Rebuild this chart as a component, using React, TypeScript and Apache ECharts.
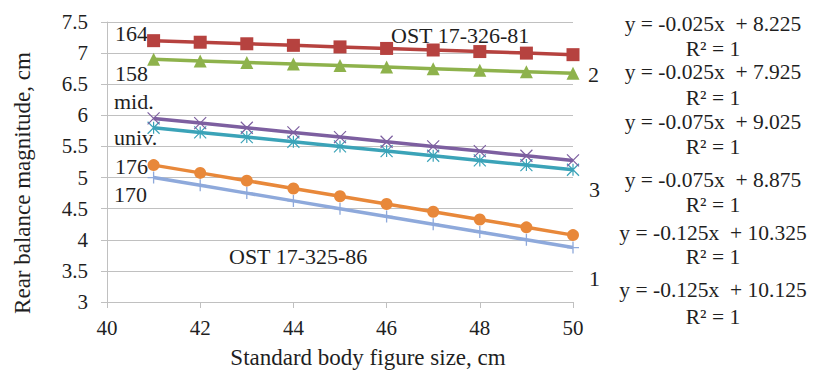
import React, { useEffect, useRef } from "react";
import * as echarts from "echarts";

const sizes = [41, 42, 43, 44, 45, 46, 47, 48, 49, 50];
const s164 = [7.2, 7.175, 7.15, 7.125, 7.1, 7.075, 7.05, 7.025, 7.0, 6.975];
const s158 = [6.9, 6.875, 6.85, 6.825, 6.8, 6.775, 6.75, 6.725, 6.7, 6.675];
const sMid = [5.95, 5.875, 5.8, 5.725, 5.65, 5.575, 5.5, 5.425, 5.35, 5.275];
const sUniv = [5.8, 5.725, 5.65, 5.575, 5.5, 5.425, 5.35, 5.275, 5.2, 5.125];
const s176 = [5.2, 5.075, 4.95, 4.825, 4.7, 4.575, 4.45, 4.325, 4.2, 4.075];
const s170 = [5.0, 4.875, 4.75, 4.625, 4.5, 4.375, 4.25, 4.125, 4.0, 3.875];

const equations = [
  "y = -0.025x  + 8.225",
  "y = -0.025x  + 7.925",
  "y = -0.075x  + 9.025",
  "y = -0.075x  + 8.875",
  "y = -0.125x  + 10.325",
  "y = -0.125x  + 10.125",
];
const eqY = [24, 72, 122, 180, 233, 290];
const r2Y = [49, 98, 147, 205, 257, 317];

const labels = [
  { t: "164", x: 115, y: 33 },
  { t: "158", x: 115, y: 73 },
  { t: "mid.", x: 114, y: 101 },
  { t: "univ.", x: 114, y: 137 },
  { t: "176", x: 115, y: 166 },
  { t: "170", x: 114, y: 194 },
  { t: "OST 17-326-81", x: 391, y: 35 },
  { t: "OST 17-325-86", x: 229, y: 256 },
  { t: "2", x: 588, y: 74 },
  { t: "3", x: 589, y: 189 },
  { t: "1", x: 589, y: 278 },
];

const FONT = "'Liberation Serif', 'Times New Roman', serif";
const TXT = "#1f1f1f";
const GRID = "#C0C0C0";

function mk(name: string, data: number[], color: string, symbol: string, size: number, border = 0) {
  return {
    name,
    type: "line",
    data: sizes.map((x, i) => [x, data[i]]),
    symbol,
    symbolSize: size,
    showAllSymbol: true,
    lineStyle: { color, width: 3.5 },
    itemStyle: { color, borderColor: color, borderWidth: border },
  };
}

export default function App() {
  const ref = useRef<HTMLDivElement>(null);
  useEffect(() => {
    document.body.style.margin = "0";
    const chart = echarts.init(ref.current!, null, { renderer: "svg" });
    const graphic: any[] = [];
    labels.forEach((l) =>
      graphic.push({
        type: "text",
        style: { text: l.t, x: l.x, y: l.y, font: `22px ${FONT}`, fill: TXT, align: "left", verticalAlign: "middle" },
      })
    );
    equations.forEach((e, i) => {
      graphic.push({
        type: "text",
        style: { text: e, x: 713, y: eqY[i], font: `21.5px ${FONT}`, fill: TXT, align: "center", verticalAlign: "middle" },
      });
      graphic.push({
        type: "text",
        style: { text: "R² = 1", x: 713, y: r2Y[i], font: `21.5px ${FONT}`, fill: TXT, align: "center", verticalAlign: "middle" },
      });
    });
    graphic.push({
      type: "text",
      x: 22,
      y: 183,
      rotation: Math.PI / 2,
      style: { text: "Rear balance magnitude, cm", x: 0, y: 0, font: `23px ${FONT}`, fill: TXT, align: "center", verticalAlign: "middle" },
    });
    graphic.push({
      type: "text",
      style: { text: "Standard body figure size, cm", x: 368, y: 357, font: `23px ${FONT}`, fill: TXT, align: "center", verticalAlign: "middle" },
    });

    const axisLabel = {
      color: TXT,
      fontFamily: FONT,
      fontSize: 21,
      fontStyle: "normal",
      fontWeight: "normal",
    };

    chart.setOption({
      animation: false,
      textStyle: { fontFamily: FONT },
      grid: { left: 107, right: 248, top: 22, bottom: 72 },
      xAxis: {
        type: "value",
        min: 40,
        max: 50,
        interval: 2,
        axisLine: { show: true, lineStyle: { color: GRID, width: 1 } },
        axisTick: { show: true, length: 6, lineStyle: { color: GRID } },
        splitLine: { show: false },
        axisLabel: { ...axisLabel, margin: 15 },
      },
      yAxis: {
        type: "value",
        min: 3,
        max: 7.5,
        interval: 0.5,
        axisLine: { show: true, lineStyle: { color: GRID, width: 1 } },
        axisTick: { show: true, length: 6, lineStyle: { color: GRID } },
        splitLine: { show: true, lineStyle: { color: GRID, width: 1 } },
        axisLabel: { ...axisLabel, margin: 19 },
      },
      series: [
        mk("170", s170, "#8EA9DB", "path://M5,0L5,10M0,5L10,5", 12, 1.3),
        mk("176", s176, "#E8883A", "circle", 12),
        mk("univ.", sUniv, "#3BA3B8", "path://M0,0L10,10M10,0L0,10M5,0L5,10", 12, 1.2),
        mk("mid.", sMid, "#7D5FA0", "path://M0,0L10,10M10,0L0,10", 12, 1.2),
        mk("158", s158, "#8EB24C", "triangle", 13),
        mk("164", s164, "#B6423F", "rect", 13),
      ],
      graphic,
    });
    return () => chart.dispose();
  }, []);
  return <div ref={ref} style={{ width: 821, height: 374 }} />;
}
